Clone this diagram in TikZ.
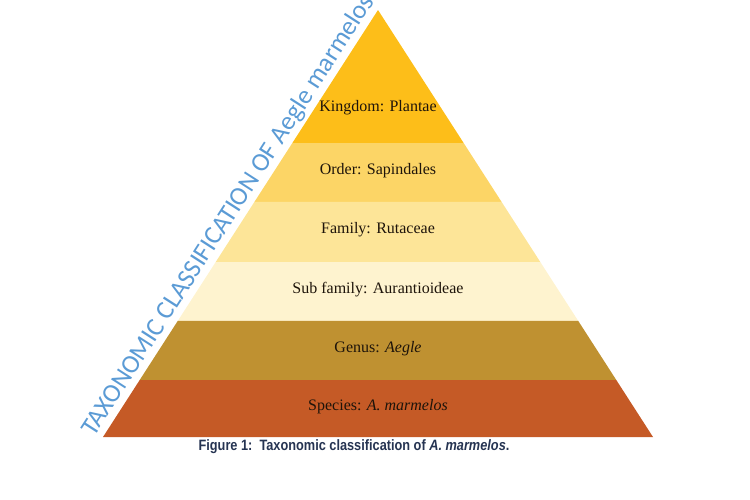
\documentclass[tikz,border=0pt]{standalone}
\usepackage{fontspec}
\setmainfont{Liberation Serif}
\setsansfont{Liberation Sans}
\newfontfamily\carlito{Carlito}
\usetikzlibrary{calc, positioning}

\definecolor{kingdomcol}{RGB}{253,190,25}
\definecolor{ordercol}{RGB}{252,213,102}
\definecolor{familycol}{RGB}{253,229,152}
\definecolor{subfamilycol}{RGB}{254,243,207}
\definecolor{genuscol}{RGB}{191,145,49}
\definecolor{speciescol}{RGB}{197,90,38}
\definecolor{rankink}{RGB}{30,20,10}
\definecolor{titleblue}{RGB}{91,155,213}
\definecolor{captionink}{RGB}{38,52,82}

\tikzset{
	layer/.style={fill=#1, draw=none}
}
\tikzset{
	ranktext/.style={font=\fontsize{16}{18}\selectfont, text=rankink, inner sep=1pt}
}
\tikzset{
	sidetext/.style={font=\carlito\fontsize{26}{28}\selectfont, text=titleblue, inner sep=2.5pt}
}

\begin{document}
\begin{tikzpicture}[x=1pt,y=-1pt]
	\useasboundingbox (0,0) rectangle (750,499);

	\begin{scope}
		\coordinate (apex) at (378,10);
		\coordinate (bl) at (103,437);
		\coordinate (br) at (653,437);

		\coordinate (l1) at ($(apex)!0.3115!(bl)$);
		\coordinate (l2) at ($(apex)!0.4496!(bl)$);
		\coordinate (l3) at ($(apex)!0.5902!(bl)$);
		\coordinate (l4) at ($(apex)!0.7283!(bl)$);
		\coordinate (l5) at ($(apex)!0.8665!(bl)$);

		\coordinate (r1) at ($(apex)!0.3115!(br)$);
		\coordinate (r2) at ($(apex)!0.4496!(br)$);
		\coordinate (r3) at ($(apex)!0.5902!(br)$);
		\coordinate (r4) at ($(apex)!0.7283!(br)$);
		\coordinate (r5) at ($(apex)!0.8665!(br)$);

		\fill[layer=kingdomcol] (apex) -- (l1) -- (r1) -- cycle;
		\fill[layer=ordercol] (l1) -- (l2) -- (r2) -- (r1) -- cycle;
		\fill[layer=familycol] (l2) -- (l3) -- (r3) -- (r2) -- cycle;
		\fill[layer=subfamilycol] (l3) -- (l4) -- (r4) -- (r3) -- cycle;
		\fill[layer=genuscol] (l4) -- (l5) -- (r5) -- (r4) -- cycle;
		\fill[layer=speciescol] (l5) -- (bl) -- (br) -- (r5) -- cycle;
	\end{scope}

	\node[ranktext] (kingdom) at (378,108) {Kingdom: Plantae};
	\node[ranktext] (order) at (378,171) {Order: Sapindales};
	\node[ranktext] (family) at (378,230) {Family: Rutaceae};
	\node[ranktext] (subfamily) at (378,290) {Sub family: Aurantioideae};
	\node[ranktext] (genus) at (378,349) {Genus: \textit{Aegle}};
	\node[ranktext] (species) at (378,407) {Species: \textit{A. marmelos}};

	\path (bl) -- (apex) node[sidetext, midway, sloped, above] (sidetitle) {TAXONOMIC CLASSIFICATION OF Aegle marmelos};

	\node[font=\sffamily\bfseries\fontsize{15}{17}\selectfont, text=captionink, xscale=0.85] (caption) at (354,447) {Figure 1:\ \ Taxonomic classification of \textit{A. marmelos}.};

\end{tikzpicture}
\end{document}
